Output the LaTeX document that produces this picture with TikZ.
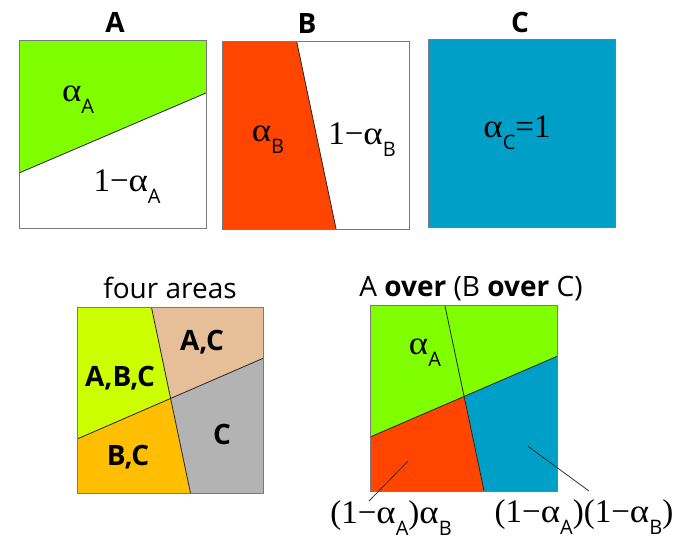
\documentclass[tikz,border=0pt]{standalone}
\usepackage{fontspec}
\setmainfont{Liberation Serif}
\setsansfont{Open Sans}
\newcommand\subs[1]{\raisebox{-0.36em}{\sffamily\fontsize{20}{20}\selectfont #1}}
\newcommand\alp[1]{\scalebox{1.12}[1]{α}\subs{#1}}
\definecolor{agreen}{HTML}{80FF00}
\definecolor{borange}{HTML}{FF4500}
\definecolor{cblue}{HTML}{009FC7}
\definecolor{ygreen}{HTML}{CCFF00}
\definecolor{tan}{HTML}{E6BF99}
\definecolor{cgray}{HTML}{B3B3B3}
\definecolor{yorange}{HTML}{FFBF00}
\definecolor{framegray}{HTML}{7A7A7A}
\begin{document}
\begin{tikzpicture}[x=1pt,y=-1pt,
  title/.style={font=\sffamily\bfseries\fontsize{28}{28}\selectfont},
  ttl/.style={font=\sffamily\fontsize{28}{28}\selectfont},
  lbl/.style={font=\fontsize{33}{33}\selectfont, inner sep=0pt},
  area/.style={font=\sffamily\bfseries\fontsize{28}{28}\selectfont},
  frame/.style={draw=framegray, line width=1pt},
  divide/.style={draw=black!85, line width=0.8pt},
  leader/.style={draw=black!80, line width=0.8pt}]
\useasboundingbox (0,0) rectangle (682,540);

% Box A
\begin{scope}[xshift=19pt, yshift=-41pt, x=187pt, y=-187pt]
  \fill[white] (0,0) rectangle (1,1);
  \fill[agreen] (0,0) -- (1,0) -- (1,0.278) -- (0,0.706) -- cycle;
  \draw[divide] (0,0.706) -- (1,0.278);
  \draw[frame] (0,0) rectangle (1,1);
  \node[title] (tA) at (0.513,-0.10) {A};
  \node[lbl] (aA) at (0.316,0.316) {\alp{A}};
  \node[lbl] (bA) at (0.578,0.78) {1−\alp{A}};
\end{scope}

% Box B
\begin{scope}[xshift=222pt, yshift=-42pt, x=187pt, y=-187pt]
  \fill[white] (0,0) rectangle (1,1);
  \fill[borange] (0,0) -- (0.40,0) -- (0.61,1) -- (0,1) -- cycle;
  \draw[divide] (0.40,0) -- (0.61,1);
  \draw[frame] (0,0) rectangle (1,1);
  \node[title] (tB) at (0.455,-0.10) {B};
  \node[lbl] (aB) at (0.246,0.524) {\alp{B}};
  \node[lbl] (bB) at (0.749,0.524) {1−\alp{B}};
\end{scope}

% Box C
\begin{scope}[xshift=428pt, yshift=-40pt, x=187pt, y=-187pt]
  \fill[cblue] (0,0) rectangle (1,1);
  \draw[frame] (0,0) rectangle (1,1);
  \node[title] (tC) at (0.492,-0.096) {C};
  \node[lbl] (aC) at (0.476,0.497) {\alp{C}=1};
\end{scope}

% four areas
\begin{scope}[xshift=77pt, yshift=-307pt, x=186pt, y=-186pt]
  \coordinate (P) at (0.503,0.491);
  \fill[ygreen] (0,0) -- (0.40,0) -- (P) -- (0,0.71) -- cycle;
  \fill[tan] (0.40,0) -- (1,0) -- (1,0.276) -- (P) -- cycle;
  \fill[cgray] (P) -- (1,0.276) -- (1,1) -- (0.61,1) -- cycle;
  \fill[yorange] (0,0.71) -- (P) -- (0.61,1) -- (0,1) -- cycle;
  \draw[divide] (0,0.71) -- (1,0.276);
  \draw[divide] (0.40,0) -- (0.61,1);
  \draw[frame] (0,0) rectangle (1,1);
  \node[ttl] (tF) at (0.5,-0.10) {four areas};
  \node[area] (fABC) at (0.231,0.382) {A,B,C};
  \node[area] (fAC) at (0.672,0.188) {A,C};
  \node[area] (fC) at (0.78,0.688) {C};
  \node[area] (fBC) at (0.274,0.806) {B,C};
\end{scope}

% A over (B over C)
\begin{scope}[xshift=370pt, yshift=-305pt, x=187pt, y=-186pt]
  \coordinate (Q) at (0.503,0.491);
  \fill[agreen] (0,0) -- (1,0) -- (1,0.276) -- (Q) -- (0,0.71) -- cycle;
  \fill[cblue] (Q) -- (1,0.276) -- (1,1) -- (0.61,1) -- cycle;
  \fill[borange] (0,0.71) -- (Q) -- (0.61,1) -- (0,1) -- cycle;
  \draw[divide] (0,0.71) -- (1,0.276);
  \draw[divide] (0.40,0) -- (0.61,1);
  \draw[frame] (0,0) rectangle (1,1);
  \node[ttl] (tO) at (0.54,-0.09) {A \textbf{over} (B \textbf{over} C)};
  \node[lbl] (oA) at (0.294,0.257) {\alp{A}};
  \coordinate (l1s) at (0.203,0.84);
  \coordinate (l2s) at (0.845,0.76);
\end{scope}

\node[lbl] (labL) at (391,518) {(1−\alp{A})\alp{B}};
\node[lbl] (labR) at (584,517) {(1−\alp{A})(1−\alp{B})};
\coordinate (l1e) at (369,501);
\coordinate (l2e) at (589,491);
\draw[leader] (l1s) -- (l1e);
\draw[leader] (l2s) -- (l2e);
\end{tikzpicture}
\end{document}
